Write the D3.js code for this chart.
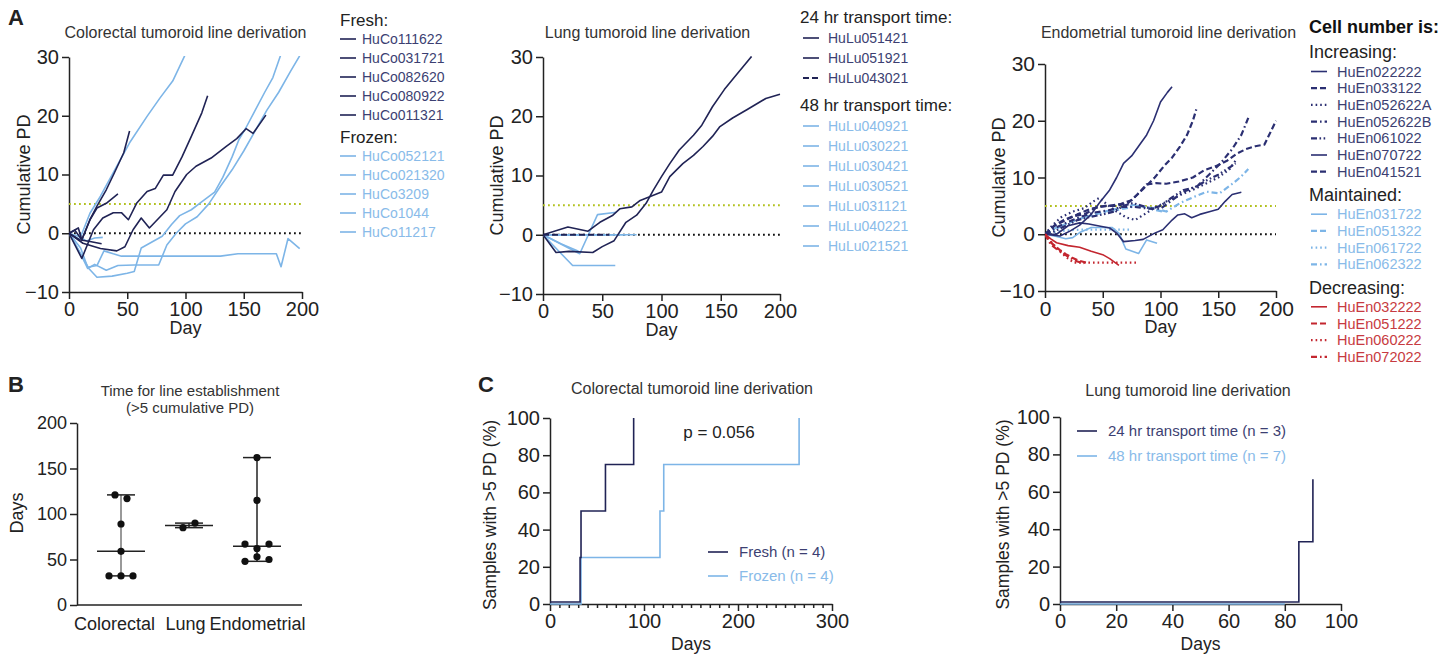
<!DOCTYPE html>
<html>
<head>
<meta charset="utf-8">
<script src="https://cdn.jsdelivr.net/npm/d3@7"></script>
<style>
  body { margin: 0; background: #fff; }
  svg { font-family: "Liberation Sans", Arial, Helvetica, sans-serif; }
</style>
</head>
<body>
<script>
// ---------- data: panel A, colorectal ----------
const coFreshNames = ['HuCo111622', 'HuCo031721', 'HuCo082620', 'HuCo080922', 'HuCo011321'];
const coFreshPts = [
  [[0,0],[9,-1.1],[18,-1.4],[28,-1.8]],
  [[0,0],[8,0.9],[11,-1.1],[18,2.3],[24,4.3],[32,5.1],[42,6.7]],
  [[0,0],[5,0.5],[11,-1.1],[18,2.3],[24,4.6],[32,7.4],[39,10.3],[47,13.7],[52,17.4]],
  [[0,0],[12,-1.7],[27,-2.6],[41,-3],[48,-2.3],[55,0.6],[62,2.6],[69,0.9],[84,4],[91,7.1],[101,10],[109,11.4],[122,12.8],[135,14.8],[144,16.1],[152,17.8],[158,17],[169,20.1]],
  [[0,0],[11,-4.3],[21,0.6],[29,2.6],[38,3.5],[45,3.5],[51,2.3],[58,5.1],[67,7.1],[74,7.6],[81,9.9],[89,9.9],[97,13],[105,16.5],[114,20.5],[119,23.4]]
];
const coFrozenNames = ['HuCo052121', 'HuCo021320', 'HuCo3209', 'HuCo1044', 'HuCo11217'];
const coFrozenPts = [
  [[0,0],[9,-1.1],[18,3.4],[27,6.3],[38,10.3],[52,15.4],[67,19.9],[78,23],[89,25.9],[100,30.5]],
  [[0,0],[10,-3.5],[17,-6],[24,-7.5],[37,-7.3],[50,-6.8],[56,-6.5],[62,-2.5],[80,-0.5],[88,1.5],[95,3],[105,4],[115,5.5],[125,7],[132,9.5],[140,13],[146,16],[152,18],[160,21],[168,24],[175,26.5],[182,30.5]],
  [[0,0],[10,-3.5],[16,-6],[22,-5.3],[32,-6.3],[42,-5.5],[56,-5.4],[77,-5.4],[84,-2],[92,0],[100,1.6],[110,2.8],[120,5],[130,8],[140,10.8],[150,14],[160,17.5],[170,21],[180,24],[190,27.5],[198,30.2]],
  [[0,0],[10,-2.5],[16,-5.8],[24,-5.5],[30,-3],[38,-3.5],[45,-3.9],[100,-3.9],[130,-3.9],[145,-3.5],[178,-3.5],[182,-5.7],[188,-0.9],[198,-2.6]],
  [[0,0],[8,-0.5],[15,-1.3],[22,-0.8],[29,-0.7]]
];

// ---------- data: panel A, lung ----------
const lu24Names = ['HuLu051421', 'HuLu051921', 'HuLu043021'];
const lu24Pts = [
  [[0,0],[11,-3],[22,-2.8],[42,-3],[50,-2],[60,-1],[70,2.1],[79,3.3],[87,5.3],[93,7.5],[100,9.8],[107,12],[115,14.3],[127,16.8],[134,18.5],[143,21.6],[153,24.5],[162,26.7],[169,28.4],[176,30.1]],
  [[0,0],[21,1.3],[38,0.6],[48,2.1],[59,3.3],[65,4.4],[75,4.7],[82,5.8],[90,6.4],[100,7.2],[107,9.8],[118,12],[127,13.4],[135,14.9],[143,16.6],[149,18.2],[160,19.7],[172,21.1],[188,23],[200,23.7]],
  [[0,0],[28,0],[56,0]]
];
const lu24Dash = ['solid', 'solid', 'dash'];
const lu48Names = ['HuLu040921', 'HuLu030221', 'HuLu030421', 'HuLu030521', 'HuLu031121', 'HuLu040221', 'HuLu021521'];
const lu48Pts = [
  [[0,0],[31,-3.2],[46,3.4],[62,3.8]],
  [[0,0],[25,-5.2],[61,-5.2]],
  [[0,0],[40,0],[79,0]],
  [[0,0],[30,0],[60,0]],
  [[0,0],[15,-1.5],[30,-2.8]],
  [[0,0],[20,0],[45,0]],
  [[0,0],[35,0],[70,0]]
];

// ---------- data: panel A, endometrial ----------
const enIncNames = ['HuEn022222', 'HuEn033122', 'HuEn052622A', 'HuEn052622B', 'HuEn061022', 'HuEn070722', 'HuEn041521'];
const enIncDash = ['solid', 'dash', 'dot', 'dashdot', 'dashdotdot', 'solid', 'dash'];
const enIncPts = [
  [[0,0],[13,-0.3],[22,0.6],[30,1.6],[40,3.5],[47,5.5],[56,7.8],[62,10],[68,12.5],[75,13.8],[81,15.5],[88,17.5],[94,20],[100,23.3],[106,25],[110,26]],
  [[0,0],[8,1.5],[16,2.5],[25,3.2],[35,3.6],[45,4.8],[55,5],[65,5.3],[75,6],[85,8],[95,10],[103,12],[110,13.5],[117,15.5],[123,17.5],[128,20],[131,22]],
  [[0,0],[6,1.5],[14,3],[24,4],[34,4.6],[42,5.8],[47,6.4],[54,5.2],[62,4],[70,3],[78,2.5],[86,3.5],[96,4.8],[106,5.8],[118,7],[130,8],[140,9],[150,10],[160,11.5],[165,13]],
  [[0,0],[8,1],[18,2],[30,3],[42,3.8],[55,4.2],[66,4.8],[78,4.8],[90,4.5],[100,4.5],[110,6],[120,7.5],[132,8.5],[142,10.5],[152,12.5],[162,15],[170,17.5],[176,20.5]],
  [[0,0],[8,0.5],[18,1.5],[28,2.5],[38,3],[50,3.5],[60,4],[68,5],[76,5.5],[84,5],[92,4.5],[100,5],[110,6.5],[120,7.8],[130,8.3],[140,9.5],[150,10.5],[160,11.8],[165,12.5]],
  [[0,0],[10,0],[20,1.5],[30,2],[38,1.8],[48,1.4],[56,1.1],[62,0.2],[68,-1.3],[78,-1.1],[85,-0.9],[95,0.2],[102,0.8],[110,2.5],[115,3.4],[121,3.6],[127,2.9],[134,3.5],[143,4],[150,4.4],[156,5.8],[162,7],[170,7.4]],
  [[0,0],[8,1.5],[18,2.5],[28,3.5],[40,4.5],[52,5],[62,5],[72,5.5],[80,7],[88,8.8],[96,9],[105,8.9],[116,9.3],[128,10],[138,11.3],[148,12],[158,13],[166,14.2],[174,15],[182,15.5],[190,15.8],[200,20]]
];
const enMaintNames = ['HuEn031722', 'HuEn051322', 'HuEn061722', 'HuEn062322'];
const enMaintDash = ['solid', 'dash', 'dot', 'dashdot'];
const enMaintPts = [
  [[0,0],[10,-0.4],[18,-0.8],[24,-0.6],[30,0.3],[40,1.2],[50,1.2],[58,1.2],[64,0.2],[70,-2.6],[81,-3.4],[88,-1],[97,-1.6]],
  [[0,0],[8,1],[18,1.8],[28,2.6],[38,3.2],[48,3.8],[58,4.3],[68,4.8],[78,5.2],[86,4.8],[95,4.3],[102,4]],
  [[0,0],[10,0.4],[20,0.7],[30,0.8],[45,0.8],[60,0.8],[74,0.8]],
  [[0,0],[10,1],[20,2],[30,2.8],[42,3.5],[55,4],[68,4.5],[80,5],[94,4.6],[105,4],[117,5.5],[128,6.5],[140,7.5],[151,7.2],[163,9],[170,10.2],[176,11.5]]
];
const enDecNames = ['HuEn032222', 'HuEn051222', 'HuEn060222', 'HuEn072022'];
const enDecDash = ['solid', 'dash', 'dot', 'dashdot'];
const enDecPts = [
  [[0,0],[5,-0.8],[10,-1.5],[20,-2],[30,-2.3],[40,-3],[50,-3.6],[56,-4.3],[64,-5.5]],
  [[0,0],[4,-1.2],[8,-2],[13,-2.8],[18,-3.5],[24,-4.2],[30,-4.7],[36,-5]],
  [[0,0],[6,-1.5],[12,-2.8],[18,-4],[25,-5],[40,-5],[60,-5],[79,-5]],
  [[0,0],[5,-1.8],[10,-2.6],[16,-3.4],[22,-4.2],[28,-4.8],[34,-5.1]]
];

const pdXTicks = [0, 50, 100, 150, 200];
const pdYTicks = [-10, 0, 10, 20, 30];

// ---------- data: panel B ----------
const bCats = ['Colorectal', 'Lung', 'Endometrial'];
const bColorectal = [121, 117, 89, 59, 32, 32, 32];
const bLung = [85, 90];
const bEndometrial = [162, 115, 67, 62, 67, 48, 53, 50];
const bYTicks = [0, 50, 100, 150, 200];

// ---------- data: panel C ----------
const cFreshDays = [0, 32, 33, 59, 89];
const cFreshPct = [0, 25, 50, 75, 100];
const cFrozenDays = [0, 33, 117, 121, 265];
const cFrozenPct = [0, 25, 50, 75, 100];
const c24Days = [0, 85, 90];
const c24Pct = [0, 33.3, 66.7];
const c48Days = [0, 80];
const c48Pct = [0, 0];
const cYTicks = [0, 20, 40, 60, 80, 100];

// ---------- styles ----------
const NAVY = '#202355', NAVY_EN = '#2b2f72', LIGHT = '#7db5e7', RED = '#c3262f';
const NAVY_TXT = '#3c3f72', LIGHT_TXT = '#89bbe9', RED_TXT = '#c73a41';
const GREEN = '#b2c11f', INK = '#222';
const DASH = { solid: null, dash: '6,3', dot: '1.6,3', dashdot: '6,3,1.6,3', dashdotdot: '6,2.5,1.6,2.5,1.6,2.5' };

const svg = d3.select('body').append('svg')
  .attr('width', 1456)
  .attr('height', 654)
  .style('background-color', 'white');

function styleAxis(g, fs) {
  g.attr('font-family', null).attr('font-size', fs).attr('color', INK);
  g.selectAll('path, line').attr('stroke-width', 1.5);
}

function label(x, y, txt, fs, opts = {}) {
  const t = svg.append('text')
    .attr('x', x).attr('y', y).attr('dy', '0.35em')
    .attr('font-size', fs)
    .attr('fill', opts.fill || INK)
    .attr('text-anchor', opts.anchor || 'start')
    .attr('font-weight', opts.bold ? 'bold' : null)
    .text(txt);
  if (opts.rotate) t.attr('transform', `rotate(-90,${x},${y})`);
  return t;
}

// ---------- panel A helper ----------
function pdPanel(p) {
  const x = d3.scaleLinear().domain([0, 200]).range([p.left, p.right]);
  const y = d3.scaleLinear().domain([-10, 30]).range([p.bottom, p.top]);
  const g = svg.append('g');

  const xa = g.append('g').attr('transform', `translate(0,${p.bottom})`)
    .call(d3.axisBottom(x).tickValues(pdXTicks).tickSize(7).tickPadding(3).tickSizeOuter(0));
  const ya = g.append('g').attr('transform', `translate(${p.left},0)`)
    .call(d3.axisLeft(y).tickValues(pdYTicks).tickSize(7).tickPadding(3).tickSizeOuter(0));
  styleAxis(xa, p.tickFs);
  styleAxis(ya, p.tickFs);

  [[5, GREEN], [0, '#111']].forEach(([v, c]) => {
    g.append('line')
      .attr('x1', x(0)).attr('x2', x(200))
      .attr('y1', y(v)).attr('y2', y(v))
      .attr('stroke', c).attr('stroke-width', 2)
      .attr('stroke-dasharray', '1.8,3.2');
  });

  svg.append('clipPath').attr('id', 'clip' + p.id)
    .append('rect')
    .attr('x', p.left).attr('y', p.top - 1)
    .attr('width', p.right - p.left + 3).attr('height', p.bottom - p.top + 1);

  const line = d3.line().x(d => x(d[0])).y(d => y(d[1]));
  p.series.forEach(s => {
    g.append('path')
      .attr('clip-path', `url(#clip${p.id})`)
      .attr('d', line(s.pts))
      .attr('fill', 'none')
      .attr('stroke', s.color)
      .attr('stroke-width', s.dash && s.dash !== 'solid' ? 2.2 : 1.6)
      .attr('stroke-dasharray', DASH[s.dash] || null)
      .attr('stroke-linejoin', 'round');
  });

  label((p.left + p.right) / 2 + p.titleDx, 32, p.title, 16, { anchor: 'middle', fill: '#333' });
  label((p.left + p.right) / 2, p.bottom + 36, 'Day', 18, { anchor: 'middle' });
  label(p.yLabelX, (p.top + p.bottom) / 2, 'Cumulative PD', 18, { anchor: 'middle', rotate: true });
}

function legend(o) {
  let yy = o.y;
  o.groups.forEach((gr, gi) => {
    if (gi > 0) yy += o.groupGap;
    label(o.headX, yy, gr.head, o.headFs);
    yy += o.headGap - o.step;
    gr.names.forEach((n, i) => {
      yy += o.step;
      const d = gr.dash ? gr.dash[i] : 'solid';
      svg.append('line')
        .attr('x1', o.lineX).attr('x2', o.lineX + 16)
        .attr('y1', yy).attr('y2', yy)
        .attr('stroke', gr.color)
        .attr('stroke-width', d !== 'solid' ? 2.2 : 1.6)
        .attr('stroke-dasharray', DASH[d] || null);
      label(o.lineX + o.textDx, yy, n, o.itemFs, { fill: gr.textColor });
    });
  });
}

const mk = (ptsArr, color, dash) => ptsArr.map((pts, i) => ({ pts, color, dash: dash ? dash[i] : 'solid' }));

// ---------- panel A ----------
label(8, 17, 'A', 22, { bold: true });

pdPanel({
  id: 'co', left: 69, right: 302, top: 57, bottom: 292, tickFs: 20,
  title: 'Colorectal tumoroid line derivation', titleDx: 0, yLabelX: 24,
  series: [...mk(coFrozenPts, LIGHT), ...mk(coFreshPts, NAVY)]
});
legend({
  y: 20, headX: 340, lineX: 340, textDx: 22, step: 19, headGap: 19, groupGap: 22, headFs: 17, itemFs: 14,
  groups: [
    { head: 'Fresh:', names: coFreshNames, color: NAVY, textColor: NAVY_TXT },
    { head: 'Frozen:', names: coFrozenNames, color: LIGHT, textColor: LIGHT_TXT }
  ]
});

pdPanel({
  id: 'lu', left: 543, right: 780, top: 57, bottom: 294, tickFs: 20,
  title: 'Lung tumoroid line derivation', titleDx: -14, yLabelX: 497,
  series: [...mk(lu48Pts, LIGHT), ...mk(lu24Pts, NAVY, lu24Dash)]
});
legend({
  y: 17, headX: 800, lineX: 803, textDx: 25, step: 20, headGap: 21, groupGap: 27, headFs: 17, itemFs: 14,
  groups: [
    { head: '24 hr transport time:', names: lu24Names, color: NAVY, textColor: NAVY_TXT, dash: lu24Dash },
    { head: '48 hr transport time:', names: lu48Names, color: LIGHT, textColor: LIGHT_TXT }
  ]
});

pdPanel({
  id: 'en', left: 1045, right: 1276, top: 64, bottom: 291, tickFs: 21,
  title: 'Endometrial tumoroid line derivation', titleDx: 8, yLabelX: 999,
  series: [...mk(enMaintPts, LIGHT, enMaintDash), ...mk(enIncPts, NAVY_EN, enIncDash), ...mk(enDecPts, RED, enDecDash)]
});
label(1309, 27, 'Cell number is:', 18, { bold: true, fill: '#111' });
legend({
  y: 52, headX: 1309, lineX: 1311, textDx: 26, step: 16.7, headGap: 19.5, groupGap: 23, headFs: 18, itemFs: 14.5,
  groups: [
    { head: 'Increasing:', names: enIncNames, color: NAVY_EN, textColor: NAVY_TXT, dash: enIncDash },
    { head: 'Maintained:', names: enMaintNames, color: LIGHT, textColor: LIGHT_TXT, dash: enMaintDash },
    { head: 'Decreasing:', names: enDecNames, color: RED, textColor: RED_TXT, dash: enDecDash }
  ]
});

// ---------- panel B ----------
label(8, 384, 'B', 22, { bold: true });
label(190, 391, 'Time for line establishment', 15, { anchor: 'middle', fill: '#333' });
label(190, 408, '(>5 cumulative PD)', 15, { anchor: 'middle', fill: '#333' });

const bY = d3.scaleLinear().domain([0, 200]).range([605, 423]);
const bX = d3.scalePoint().domain(bCats).range([121, 257]);
const bAxisY = svg.append('g').attr('transform', 'translate(77,0)')
  .call(d3.axisLeft(bY).tickValues(bYTicks).tickSize(7).tickPadding(3).tickSizeOuter(0));
styleAxis(bAxisY, 18);
svg.append('line').attr('x1', 77).attr('x2', 302).attr('y1', bY(0)).attr('y2', bY(0))
  .attr('stroke', INK).attr('stroke-width', 1.5);
const bAxisX = svg.append('g').attr('transform', `translate(0,${bY(0)})`)
  .call(d3.axisBottom(bX).tickSize(0).tickPadding(12));
styleAxis(bAxisX, 18);
bAxisX.select('.domain').remove();
// the names sit slightly left of their columns, as in the original
bAxisX.selectAll('.tick text').attr('dx', d => (d === 'Colorectal' ? -7 : d === 'Lung' ? -4 : 0));
label(17, 513, 'Days', 18, { anchor: 'middle', rotate: true });

[bColorectal, bLung, bEndometrial].forEach((vals, ci) => {
  const cx = bX(bCats[ci]);
  const [lo, hi] = d3.extent(vals);
  const med = d3.median(vals);
  const g = svg.append('g');
  g.append('line').attr('x1', cx).attr('x2', cx).attr('y1', bY(lo)).attr('y2', bY(hi))
    .attr('stroke', ci === 0 ? '#777' : INK).attr('stroke-width', 1.5);
  [lo, hi].forEach(v => g.append('line').attr('x1', cx - 14).attr('x2', cx + 14)
    .attr('y1', bY(v)).attr('y2', bY(v)).attr('stroke', INK).attr('stroke-width', 1.5));
  g.append('line').attr('x1', cx - 24).attr('x2', cx + 24)
    .attr('y1', bY(med)).attr('y2', bY(med)).attr('stroke', INK).attr('stroke-width', 1.5);

  // spread points that sit at nearly the same height
  const order = d3.range(vals.length).sort((a, b) => vals[a] - vals[b]);
  const groups = [];
  order.forEach(i => {
    const last = groups[groups.length - 1];
    if (last && Math.abs(bY(vals[i]) - bY(vals[last[last.length - 1]])) < 7) last.push(i);
    else groups.push([i]);
  });
  const off = new Array(vals.length).fill(0);
  groups.forEach(gr => {
    gr.sort((a, b) => a - b);
    gr.forEach((i, k) => { off[i] = (k - (gr.length - 1) / 2) * 12; });
  });
  g.selectAll('circle').data(vals).enter().append('circle')
    .attr('cx', (d, i) => cx + off[i])
    .attr('cy', d => bY(d))
    .attr('r', 3.6)
    .attr('fill', '#111');
});

// ---------- panel C helper ----------
function kmPanel(p) {
  const x = d3.scaleLinear().domain([0, p.xMax]).range([p.left, p.right]);
  const y = d3.scaleLinear().domain([0, 100]).range([p.bottom, p.top]);
  const xa = svg.append('g').attr('transform', `translate(0,${p.bottom})`)
    .call(d3.axisBottom(x).tickValues(p.xTicks).tickSize(7).tickPadding(3).tickSizeOuter(0)
      .tickFormat(d => (d % p.major === 0 ? d : '')));
  xa.selectAll('.tick line').attr('y2', d => (d % p.major === 0 ? 7 : 4));
  const ya = svg.append('g').attr('transform', `translate(${p.left},0)`)
    .call(d3.axisLeft(y).tickValues(cYTicks).tickSize(7).tickPadding(3).tickSizeOuter(0));
  styleAxis(xa, 20);
  styleAxis(ya, 20);

  p.curves.forEach(c => {
    const pts = c.days.map((d, i) => [d, c.pct[i]]);
    const line = d3.line()
      .x(d => x(d[0]))
      .y(d => y(d[1]) - (d[1] === 0 ? c.lift : 0))
      .curve(d3.curveStepAfter);
    svg.append('path').attr('d', line(pts))
      .attr('fill', 'none').attr('stroke', c.color).attr('stroke-width', 1.6);
  });

  label(p.titleX, p.titleY, p.title, 16, { anchor: 'middle', fill: '#333' });
  label((p.left + p.right) / 2, p.bottom + 40, 'Days', 17.5, { anchor: 'middle' });
  label(p.yLabelX, (p.top + p.bottom) / 2 + 4, 'Samples with >5 PD (%)', 17.5, { anchor: 'middle', rotate: true });

  p.keys.forEach((k, i) => {
    const ly = p.keyY + i * p.keyStep;
    svg.append('line').attr('x1', p.keyX).attr('x2', p.keyX + 20).attr('y1', ly).attr('y2', ly)
      .attr('stroke', k.color).attr('stroke-width', 1.6);
    label(p.keyX + 31, ly, k.text, 15, { fill: k.textColor });
  });
}

label(478, 384, 'C', 22, { bold: true });
kmPanel({
  left: 550, right: 832, top: 418, bottom: 604, xMax: 300, xTicks: d3.range(0, 301, 10), major: 100,
  title: 'Colorectal tumoroid line derivation', titleX: 692, titleY: 388, yLabelX: 490,
  curves: [
    { days: cFrozenDays, pct: cFrozenPct, color: LIGHT, lift: 0 },
    { days: cFreshDays, pct: cFreshPct, color: NAVY, lift: 2 }
  ],
  keyX: 708, keyY: 552, keyStep: 24,
  keys: [
    { text: 'Fresh (n = 4)', color: NAVY, textColor: NAVY_TXT },
    { text: 'Frozen (n = 4)', color: LIGHT, textColor: LIGHT_TXT }
  ]
});
label(719, 432, 'p = 0.056', 17, { anchor: 'middle' });

kmPanel({
  left: 1060, right: 1341, top: 417, bottom: 604, xMax: 100, xTicks: d3.range(0, 101, 20), major: 20,
  title: 'Lung tumoroid line derivation', titleX: 1188, titleY: 390, yLabelX: 1003,
  curves: [
    { days: c48Days, pct: c48Pct, color: LIGHT, lift: 0 },
    { days: c24Days, pct: c24Pct, color: NAVY, lift: 2 }
  ],
  keyX: 1077, keyY: 431, keyStep: 25,
  keys: [
    { text: '24 hr transport time (n = 3)', color: NAVY, textColor: NAVY_TXT },
    { text: '48 hr transport time (n = 7)', color: LIGHT, textColor: LIGHT_TXT }
  ]
});
</script>
</body>
</html>
